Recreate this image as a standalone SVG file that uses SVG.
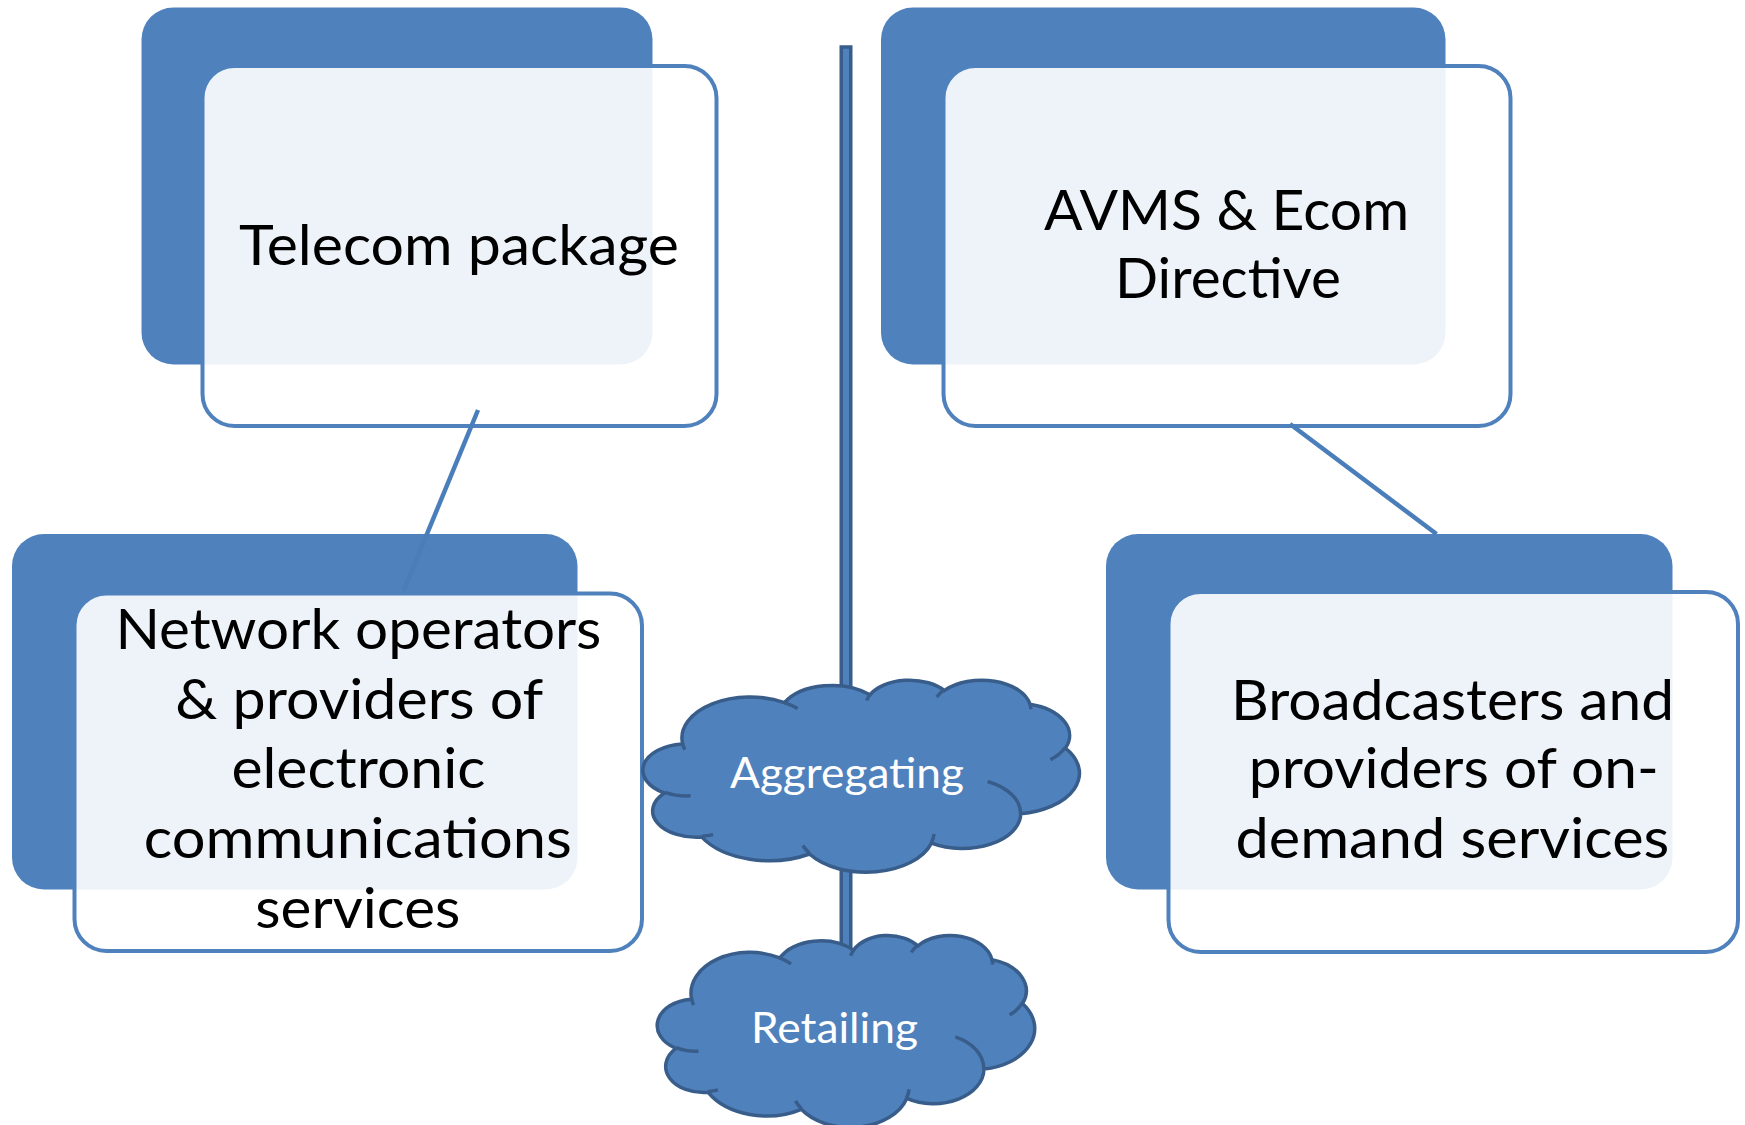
<svg xmlns="http://www.w3.org/2000/svg" xmlns:xlink="http://www.w3.org/1999/xlink" width="1745" height="1125" viewBox="0 0 1745 1125">
  <style>
    .back { fill: #4F81BD; stroke: none; }
    .front { fill: #FFFFFF; fill-opacity: 0.9; stroke: #4F81BD; stroke-width: 4; }
    .label { font-family: Lato, "Liberation Sans", sans-serif; font-size: 56px; fill: #000000; text-anchor: middle; }
    .cloudlabel { font-family: Lato, "Liberation Sans", sans-serif; font-size: 42px; fill: #FFFFFF; text-anchor: middle; }
    .cloud { fill: #4F81BD; stroke: #385D8A; stroke-width: 3.5; }
    .cloudin { fill: none; stroke: #385D8A; stroke-width: 3.5; }
    .conn { stroke: #4A7EBB; stroke-width: 4.5; fill: none; }
    .spine { fill: #4F81BD; stroke: #385D8A; stroke-width: 3.5; }
  </style>
  <defs>
    <path id="cloudShape" vector-effect="non-scaling-stroke" d="M39,143.7 A67.53,91.9 0 0 1 140.06,52.03 A53.33,72.67 0 0 1 224.6,34.36 A43.65,59.45 0 0 1 298.38,24.87 A48.57,65.95 0 0 1 383.23,55.82 A53.33,72.73 0 0 1 418.23,154.66 A67.75,92.2 0 0 1 374.09,302.09 A57.85,78.67 0 0 1 285.59,368.18 A67.52,92.15 0 0 1 164.81,392.64 A77.2,105.43 0 0 1 58.04,354.68 A43.6,59.18 0 0 1 21.13,255.46 A43.45,59.45 0 0 1 38.63,145.03 Z"/>
    <path id="cloudInner" vector-effect="non-scaling-stroke" d="M46.93,261.77 A43.45,59.45 0 0 1 21.59,253.8 M69.28,348.99 A43.6,59.18 0 0 1 58.19,352.81 M164.78,390.9 A67.52,92.15 0 0 1 158.13,373.55 M288.27,347.51 A67.52,92.15 0 0 1 285.6,366.6 M341.29,229.54 A57.85,78.67 0 0 1 373.8,300.89 M417.98,153.54 A53.33,72.73 0 0 1 403.5,180.3 M383.24,54.26 A48.57,65.95 0 0 1 384,66.9 M290.78,39.52 A48.57,65.95 0 0 1 298.2,23.4 M221.41,47.2 A43.65,59.45 0 0 1 225.4,32.25 M140,51.92 A67.53,91.9 0 0 1 153.02,65.44 M41.27,157.89 A67.53,91.9 0 0 1 39,143.71"/>
  </defs>
  <rect x="0" y="0" width="1745" height="1125" fill="#FFFFFF"/>

  <g id="spine">
    <rect class="spine" x="841.25" y="47" width="9.5" height="910"/>
  </g>

  <g id="node-telecom">
    <rect class="back" x="141.5" y="7.5" width="511" height="357" rx="32" ry="32"/>
    <rect class="front" x="202.5" y="66" width="514" height="360" rx="32" ry="32"/>
    <text class="label" x="459" y="265" textLength="440" lengthAdjust="spacingAndGlyphs">Telecom package</text>
  </g>

  <g id="node-avms">
    <rect class="back" x="881" y="7.5" width="564.5" height="357" rx="32" ry="32"/>
    <rect class="front" x="943.5" y="66" width="567" height="360" rx="32" ry="32"/>
    <text class="label" x="1226.5" y="229.5" textLength="365" lengthAdjust="spacingAndGlyphs">AVMS &amp; Ecom</text>
    <text class="label" x="1228" y="298" textLength="226" lengthAdjust="spacingAndGlyphs">Directive</text>
  </g>

  <g id="node-network">
    <rect class="back" x="12" y="534" width="565.5" height="355.5" rx="32" ry="32"/>
    <rect class="front" x="74.5" y="593.5" width="567.5" height="357.5" rx="32" ry="32"/>
    <text class="label" x="358.4" y="649.3" textLength="486" lengthAdjust="spacingAndGlyphs">Network operators</text>
    <text class="label" x="359.3" y="719" textLength="368" lengthAdjust="spacingAndGlyphs">&amp; providers of</text>
    <text class="label" x="358.4" y="788.3" textLength="254" lengthAdjust="spacingAndGlyphs">electronic</text>
    <text class="label" x="357.8" y="858.3" textLength="428" lengthAdjust="spacingAndGlyphs">communications</text>
    <text class="label" x="357.8" y="928.3" textLength="205" lengthAdjust="spacingAndGlyphs">services</text>
  </g>

  <g id="node-broadcasters">
    <rect class="back" x="1106" y="534" width="566.5" height="355.5" rx="32" ry="32"/>
    <rect class="front" x="1168.5" y="592" width="569.5" height="360" rx="32" ry="32"/>
    <text class="label" x="1452.5" y="720" textLength="443" lengthAdjust="spacingAndGlyphs">Broadcasters and</text>
    <text class="label" x="1453.8" y="788.3" textLength="410" lengthAdjust="spacingAndGlyphs">providers of on-</text>
    <text class="label" x="1452.4" y="858.3" textLength="434" lengthAdjust="spacingAndGlyphs">demand services</text>
  </g>

  <g id="connectors">
    <line class="conn" x1="478" y1="410" x2="403.5" y2="591"/>
    <line class="conn" x1="1290" y1="424" x2="1436.5" y2="534"/>
  </g>

  <g id="cloud-aggregating">
    <g transform="translate(643.2,679.5) scale(1.00926,0.44444)">
      <use xlink:href="#cloudShape" class="cloud"/>
      <use xlink:href="#cloudInner" class="cloudin"/>
    </g>
    <text class="cloudlabel" x="847" y="788" textLength="234" lengthAdjust="spacingAndGlyphs">Aggregating</text>
  </g>

  <g id="cloud-retailing">
    <g transform="translate(657.5,934.8) scale(0.87269,0.44444)">
      <use xlink:href="#cloudShape" class="cloud"/>
      <use xlink:href="#cloudInner" class="cloudin"/>
    </g>
    <text class="cloudlabel" x="834.5" y="1043" textLength="167" lengthAdjust="spacingAndGlyphs">Retailing</text>
  </g>
</svg>
